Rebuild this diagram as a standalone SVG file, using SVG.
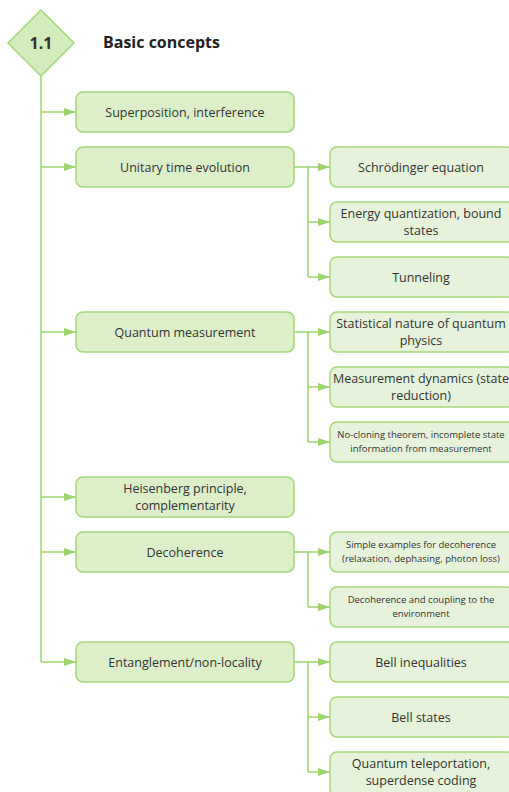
<svg xmlns="http://www.w3.org/2000/svg" width="509" height="792" viewBox="0 0 509 792">
  <defs>
    <marker id="arrow" viewBox="0 0 12 8" refX="12" refY="4" markerWidth="12" markerHeight="8" markerUnits="userSpaceOnUse" orient="auto">
      <path d="M0,0 L12,4 L0,8 Z" fill="#9dd46c"/>
    </marker>
    <style>
      .main rect { fill: #dcefc9; stroke: #a5d77b; stroke-width: 1.5; }
      .sub rect { fill: #e6f3da; stroke: #a5d77b; stroke-width: 1.5; }
      text { font-family: "Open Sans", "Noto Sans", "DejaVu Sans", sans-serif; fill: #333333; text-anchor: middle; }
      .lbl { font-size: 12.5px; }
      .sm { font-size: 9.5px; }
      .xs { font-size: 10px; }
      .conn path { fill: none; stroke: #9dd46c; stroke-width: 1.5; }
      .arr { marker-end: url(#arrow); }
    </style>
  </defs>

  <rect width="509" height="792" fill="#ffffff"/>

  <!-- connectors -->
  <g id="connectors" class="conn">
    <path d="M41,76 V662"/>
    <path class="arr" d="M41,112 H76"/>
    <path class="arr" d="M41,167 H76"/>
    <path class="arr" d="M41,332 H76"/>
    <path class="arr" d="M41,497 H76"/>
    <path class="arr" d="M41,552 H76"/>
    <path class="arr" d="M41,662 H76"/>

    <path d="M294,167 H308 V277"/>
    <path class="arr" d="M308,167 H330"/>
    <path class="arr" d="M308,222 H330"/>
    <path class="arr" d="M308,277 H330"/>

    <path d="M294,332 H308 V442"/>
    <path class="arr" d="M308,332 H330"/>
    <path class="arr" d="M308,387 H330"/>
    <path class="arr" d="M308,442 H330"/>

    <path d="M294,552 H308 V607"/>
    <path class="arr" d="M308,552 H330"/>
    <path class="arr" d="M308,607 H330"/>

    <path d="M294,662 H308 V772"/>
    <path class="arr" d="M308,662 H330"/>
    <path class="arr" d="M308,717 H330"/>
    <path class="arr" d="M308,772 H330"/>
  </g>

  <!-- section heading -->
  <g id="section">
    <polygon points="41,10 74,43 41,76 8,43" fill="#d3ecbc" stroke="#a5d77b" stroke-width="1.5"/>
    <text x="41" y="49" style="font-size:16px;font-weight:bold;">1.1</text>
    <text x="103" y="48" style="font-size:16px;font-weight:bold;text-anchor:start;fill:#222;">Basic concepts</text>
  </g>

  <!-- main topics -->
  <g id="superposition" class="main">
    <rect x="76" y="92" width="218" height="40" rx="7"/>
    <text class="lbl" x="185" y="116.5">Superposition, interference</text>
  </g>
  <g id="unitary" class="main">
    <rect x="76" y="147" width="218" height="40" rx="7"/>
    <text class="lbl" x="185" y="171.5">Unitary time evolution</text>
  </g>
  <g id="measurement" class="main">
    <rect x="76" y="312" width="218" height="40" rx="7"/>
    <text class="lbl" x="185" y="336.5">Quantum measurement</text>
  </g>
  <g id="heisenberg" class="main">
    <rect x="76" y="477" width="218" height="40" rx="7"/>
    <text class="lbl" x="185" y="493">Heisenberg principle,</text>
    <text class="lbl" x="185" y="510">complementarity</text>
  </g>
  <g id="decoherence" class="main">
    <rect x="76" y="532" width="218" height="40" rx="7"/>
    <text class="lbl" x="185" y="556.5">Decoherence</text>
  </g>
  <g id="entanglement" class="main">
    <rect x="76" y="642" width="218" height="40" rx="7"/>
    <text class="lbl" x="185" y="666.5">Entanglement/non-locality</text>
  </g>

  <!-- subtopics -->
  <g id="schrodinger" class="sub">
    <rect x="330" y="147" width="184" height="40" rx="7"/>
    <text class="lbl" x="421" y="171.5">Schrödinger equation</text>
  </g>
  <g id="energy" class="sub">
    <rect x="330" y="202" width="184" height="40" rx="7"/>
    <text class="lbl" x="421" y="218">Energy quantization, bound</text>
    <text class="lbl" x="421" y="235">states</text>
  </g>
  <g id="tunneling" class="sub">
    <rect x="330" y="257" width="184" height="40" rx="7"/>
    <text class="lbl" x="421" y="281.5">Tunneling</text>
  </g>
  <g id="statistical" class="sub">
    <rect x="330" y="312" width="184" height="40" rx="7"/>
    <text class="lbl" x="421" y="328">Statistical nature of quantum</text>
    <text class="lbl" x="421" y="345">physics</text>
  </g>
  <g id="dynamics" class="sub">
    <rect x="330" y="367" width="184" height="40" rx="7"/>
    <text class="lbl" x="421" y="383">Measurement dynamics (state</text>
    <text class="lbl" x="421" y="400">reduction)</text>
  </g>
  <g id="nocloning" class="sub">
    <rect x="330" y="422" width="184" height="40" rx="7"/>
    <text class="sm" x="421" y="438">No-cloning theorem, incomplete state</text>
    <text class="sm" x="421" y="452">information from measurement</text>
  </g>
  <g id="examples" class="sub">
    <rect x="330" y="532" width="184" height="40" rx="7"/>
    <text class="sm" x="421" y="548">Simple examples for decoherence</text>
    <text class="sm" x="421" y="562">(relaxation, dephasing, photon loss)</text>
  </g>
  <g id="coupling" class="sub">
    <rect x="330" y="587" width="184" height="40" rx="7"/>
    <text class="sm" x="421" y="603">Decoherence and coupling to the</text>
    <text class="sm" x="421" y="617">environment</text>
  </g>
  <g id="bell-ineq" class="sub">
    <rect x="330" y="642" width="184" height="40" rx="7"/>
    <text class="lbl" x="421" y="666.5">Bell inequalities</text>
  </g>
  <g id="bell-states" class="sub">
    <rect x="330" y="697" width="184" height="40" rx="7"/>
    <text class="lbl" x="421" y="721.5">Bell states</text>
  </g>
  <g id="teleportation" class="sub">
    <rect x="330" y="752" width="184" height="44" rx="7"/>
    <text class="lbl" x="421" y="768">Quantum teleportation,</text>
    <text class="lbl" x="421" y="785">superdense coding</text>
  </g>
</svg>
